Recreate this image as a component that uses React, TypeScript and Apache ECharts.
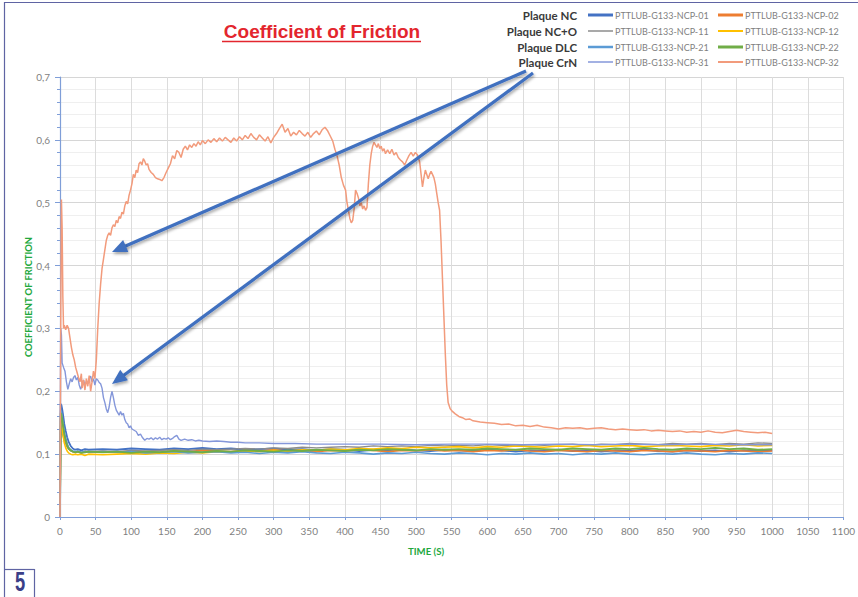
import React, { useEffect, useRef } from "react";
import * as echarts from "echarts";

// ---- axis ticks ----
const X_MIN = 0;
const X_MAX = 1100;
const X_STEP = 50;
const Y_MIN = 0;
const Y_MAX = 0.7;
const Y_STEP = 0.1;

// ---- shared time grid for the tight cluster (s) ----
const T_GRID = [
  0, 1, 2, 3, 4, 5, 6, 8, 10, 12, 15, 18, 21, 25, 30, 35, 40,
  60, 80, 100, 120, 140, 160, 180, 200,
  220, 240, 260, 280, 300, 320, 340, 360,
  380, 400, 420, 440, 460, 480, 500, 520,
  540, 560, 580, 600, 620, 640, 660, 680,
  700, 720, 740, 760, 780, 800, 820, 840,
  860, 880, 900, 920, 940, 960, 980, 1000,
];

const NCP01 = [
  0, 0.18, 0.178, 0.172, 0.165, 0.157, 0.148, 0.137, 0.127, 0.12, 0.113, 0.109, 0.107, 0.108, 0.106, 0.108, 0.107,
  0.108, 0.107, 0.109, 0.108, 0.107, 0.109, 0.108, 0.11,
  0.108, 0.109, 0.107, 0.108, 0.109, 0.107, 0.108, 0.106,
  0.108, 0.107, 0.105, 0.107, 0.106, 0.108, 0.106, 0.105,
  0.107, 0.106, 0.105, 0.107, 0.106, 0.104, 0.106, 0.105,
  0.107, 0.105, 0.106, 0.104, 0.106, 0.105, 0.107, 0.105,
  0.104, 0.106, 0.105, 0.106, 0.104, 0.106, 0.105, 0.106,
];
const NCP02 = [
  0, 0.16, 0.158, 0.152, 0.145, 0.138, 0.13, 0.122, 0.115, 0.11, 0.106, 0.104, 0.103, 0.104, 0.102, 0.104, 0.103,
  0.104, 0.103, 0.105, 0.104, 0.103, 0.105, 0.104, 0.106,
  0.105, 0.104, 0.106, 0.105, 0.107, 0.105, 0.106, 0.104,
  0.106, 0.105, 0.107, 0.106, 0.104, 0.106, 0.105, 0.107,
  0.105, 0.106, 0.104, 0.106, 0.105, 0.107, 0.105, 0.104,
  0.106, 0.105, 0.104, 0.106, 0.105, 0.104, 0.106, 0.105,
  0.104, 0.106, 0.105, 0.104, 0.106, 0.105, 0.104, 0.105,
];
const NCP11 = [
  0, 0.13, 0.135, 0.133, 0.13, 0.126, 0.122, 0.116, 0.111, 0.108, 0.105, 0.104, 0.103, 0.104, 0.103, 0.105, 0.104,
  0.105, 0.104, 0.106, 0.105, 0.106, 0.107, 0.106, 0.108,
  0.107, 0.108, 0.109, 0.108, 0.11, 0.109, 0.111, 0.11,
  0.111, 0.112, 0.111, 0.113, 0.112, 0.113, 0.112, 0.114,
  0.113, 0.114, 0.113, 0.115, 0.114, 0.113, 0.115, 0.114,
  0.115, 0.116, 0.114, 0.116, 0.115, 0.117, 0.116, 0.115,
  0.117, 0.116, 0.117, 0.115, 0.117, 0.116, 0.118, 0.117,
];
const NCP12 = [
  0, 0.15, 0.148, 0.14, 0.132, 0.125, 0.118, 0.11, 0.105, 0.102, 0.1, 0.099, 0.1, 0.099, 0.1, 0.098, 0.1,
  0.099, 0.1, 0.101, 0.1, 0.102, 0.101, 0.103, 0.102,
  0.104, 0.103, 0.105, 0.104, 0.106, 0.105, 0.107, 0.106,
  0.108, 0.107, 0.109, 0.108, 0.11, 0.109, 0.111, 0.11,
  0.111, 0.112, 0.11, 0.112, 0.111, 0.113, 0.112, 0.111,
  0.113, 0.112, 0.114, 0.112, 0.113, 0.114, 0.112, 0.113,
  0.114, 0.113, 0.112, 0.114, 0.113, 0.115, 0.113, 0.114,
];
const NCP21 = [
  0, 0.17, 0.168, 0.16, 0.152, 0.143, 0.135, 0.125, 0.117, 0.111, 0.107, 0.105, 0.104, 0.105, 0.103, 0.104, 0.103,
  0.104, 0.103, 0.104, 0.102, 0.103, 0.104, 0.102, 0.103,
  0.104, 0.102, 0.103, 0.101, 0.103, 0.102, 0.104, 0.102,
  0.101, 0.103, 0.102, 0.1, 0.102, 0.101, 0.103, 0.101,
  0.1, 0.102, 0.101, 0.099, 0.101, 0.1, 0.102, 0.1,
  0.101, 0.099, 0.101, 0.1, 0.102, 0.1, 0.099, 0.101,
  0.1, 0.102, 0.1, 0.099, 0.101, 0.1, 0.102, 0.101,
];
const NCP22 = [
  0, 0.165, 0.163, 0.156, 0.148, 0.14, 0.132, 0.122, 0.114, 0.109, 0.106, 0.104, 0.103, 0.104, 0.102, 0.103, 0.104,
  0.103, 0.104, 0.102, 0.104, 0.103, 0.105, 0.104, 0.103,
  0.105, 0.104, 0.106, 0.105, 0.104, 0.106, 0.105, 0.107,
  0.106, 0.105, 0.107, 0.106, 0.108, 0.107, 0.106, 0.108,
  0.107, 0.108, 0.107, 0.109, 0.108, 0.107, 0.109, 0.108,
  0.107, 0.109, 0.108, 0.107, 0.109, 0.108, 0.11, 0.108,
  0.107, 0.109, 0.108, 0.11, 0.108, 0.109, 0.107, 0.108,
];

// ---- CrN plate runs: [time (s), COF] ----
const NCP31: [number, number][] = [
  [0, 0], [1, 0.3], [2, 0.29], [3, 0.245], [5, 0.238], [7, 0.232], [9, 0.215], [11, 0.203], [13, 0.212],
  [15, 0.22], [17, 0.215], [19, 0.222], [21, 0.225], [23, 0.218], [25, 0.222], [27, 0.21], [29, 0.203],
  [31, 0.21], [33, 0.218], [35, 0.21], [37, 0.215], [39, 0.212], [41, 0.22], [43, 0.224], [45, 0.215],
  [47, 0.22], [49, 0.21], [51, 0.22], [53, 0.218], [55, 0.214], [57, 0.212], [59, 0.205], [61, 0.19],
  [63, 0.182], [65, 0.172], [67, 0.166], [69, 0.175], [71, 0.19], [73, 0.2], [75, 0.19], [77, 0.178],
  [79, 0.17], [81, 0.166], [83, 0.162], [85, 0.168], [87, 0.162], [89, 0.165], [91, 0.155], [93, 0.15],
  [95, 0.148], [97, 0.142], [99, 0.145], [101, 0.14], [104, 0.138], [107, 0.136], [110, 0.13], [113, 0.132],
  [116, 0.126], [119, 0.122], [122, 0.125], [125, 0.124], [128, 0.126], [131, 0.123], [134, 0.126],
  [137, 0.124], [140, 0.127], [143, 0.123], [146, 0.125], [149, 0.124], [152, 0.126], [155, 0.123],
  [158, 0.125], [161, 0.128], [164, 0.13], [167, 0.124], [170, 0.122], [175, 0.124], [180, 0.122],
  [185, 0.123], [190, 0.121], [195, 0.122], [200, 0.121], [210, 0.12], [220, 0.121], [230, 0.12],
  [240, 0.119], [250, 0.119], [260, 0.118], [280, 0.118], [300, 0.117], [330, 0.117], [360, 0.116],
  [400, 0.116], [450, 0.116], [500, 0.115], [550, 0.116], [600, 0.116], [650, 0.115], [700, 0.116],
  [750, 0.115], [800, 0.116], [850, 0.115], [900, 0.116], [950, 0.115], [1000, 0.115],
];

const NCP32: [number, number][] = [
  [0, 0], [1, 0.3], [2, 0.505], [3, 0.46], [4, 0.35], [5, 0.3], [6, 0.305], [8, 0.298], [10, 0.305],
  [12, 0.3], [14, 0.285], [16, 0.27], [18, 0.258], [20, 0.25], [22, 0.238], [24, 0.23], [26, 0.222],
  [28, 0.215], [30, 0.228], [31, 0.205], [33, 0.218], [35, 0.202], [37, 0.22], [39, 0.208], [41, 0.225],
  [43, 0.2], [45, 0.215], [47, 0.232], [49, 0.22], [51, 0.25], [53, 0.3], [55, 0.34], [57, 0.37],
  [59, 0.395], [61, 0.41], [63, 0.425], [65, 0.44], [67, 0.448], [69, 0.452], [71, 0.448], [73, 0.46],
  [75, 0.465], [77, 0.462], [79, 0.472], [81, 0.468], [83, 0.478], [85, 0.475], [87, 0.485], [89, 0.482],
  [91, 0.495], [93, 0.502], [95, 0.498], [97, 0.512], [99, 0.52], [101, 0.53], [103, 0.545], [105, 0.54],
  [107, 0.552], [109, 0.548], [111, 0.562], [113, 0.565], [115, 0.56], [117, 0.57], [119, 0.566],
  [121, 0.56], [123, 0.562], [125, 0.553], [128, 0.548], [131, 0.545], [134, 0.54], [137, 0.538],
  [140, 0.537], [143, 0.535], [146, 0.54], [149, 0.548], [152, 0.555], [155, 0.562], [158, 0.575],
  [161, 0.57], [164, 0.583], [167, 0.58], [170, 0.572], [173, 0.585], [176, 0.59], [179, 0.584],
  [182, 0.592], [185, 0.588], [188, 0.594], [191, 0.59], [194, 0.597], [197, 0.592], [200, 0.599],
  [204, 0.594], [208, 0.6], [212, 0.596], [216, 0.602], [220, 0.597], [224, 0.603], [228, 0.598],
  [232, 0.604], [236, 0.6], [240, 0.596], [244, 0.603], [248, 0.598], [252, 0.605], [256, 0.6],
  [260, 0.607], [264, 0.602], [268, 0.61], [272, 0.604], [276, 0.6], [280, 0.608], [284, 0.603],
  [288, 0.598], [292, 0.605], [296, 0.595], [300, 0.604], [304, 0.61], [308, 0.618], [312, 0.625],
  [316, 0.612], [320, 0.618], [324, 0.606], [328, 0.612], [332, 0.608], [336, 0.615], [340, 0.61],
  [344, 0.606], [348, 0.612], [352, 0.604], [356, 0.61], [360, 0.614], [364, 0.608], [368, 0.616],
  [372, 0.62], [376, 0.614], [380, 0.605], [383, 0.598], [386, 0.585], [389, 0.575], [392, 0.56],
  [395, 0.54], [398, 0.528], [401, 0.52], [403, 0.5], [405, 0.488], [407, 0.475], [409, 0.468],
  [411, 0.472], [413, 0.49], [415, 0.52], [417, 0.515], [419, 0.508], [421, 0.495], [423, 0.5],
  [425, 0.49], [427, 0.495], [429, 0.488], [431, 0.492], [433, 0.53], [435, 0.56], [437, 0.578],
  [439, 0.59], [441, 0.596], [443, 0.592], [445, 0.588], [447, 0.594], [449, 0.586], [451, 0.59],
  [453, 0.582], [455, 0.586], [457, 0.578], [460, 0.584], [463, 0.578], [466, 0.585], [469, 0.576],
  [472, 0.58], [475, 0.572], [478, 0.568], [481, 0.565], [484, 0.56], [487, 0.568], [490, 0.575],
  [493, 0.58], [496, 0.574], [499, 0.58], [502, 0.576], [505, 0.565], [507, 0.545], [509, 0.525],
  [511, 0.54], [513, 0.552], [515, 0.545], [517, 0.538], [519, 0.545], [521, 0.55], [523, 0.545],
  [525, 0.54], [527, 0.53], [529, 0.515], [531, 0.5], [533, 0.488], [535, 0.44], [537, 0.38],
  [539, 0.32], [541, 0.26], [543, 0.21], [545, 0.182], [548, 0.172], [551, 0.168], [555, 0.164],
  [560, 0.16], [565, 0.158], [570, 0.155], [575, 0.156], [580, 0.153], [590, 0.151], [600, 0.15],
  [610, 0.149], [620, 0.147], [630, 0.148], [640, 0.145], [650, 0.146], [660, 0.144], [670, 0.146],
  [680, 0.143], [690, 0.142], [700, 0.14], [710, 0.142], [720, 0.141], [730, 0.142], [740, 0.14],
  [750, 0.141], [760, 0.142], [770, 0.14], [780, 0.139], [790, 0.14], [800, 0.139], [810, 0.138],
  [820, 0.139], [830, 0.137], [840, 0.138], [850, 0.137], [860, 0.136], [870, 0.137], [880, 0.135],
  [890, 0.136], [900, 0.135], [910, 0.137], [920, 0.135], [930, 0.134], [940, 0.136], [950, 0.138],
  [960, 0.136], [970, 0.135], [980, 0.134], [990, 0.135], [1000, 0.133],
];

// ---- legend ----
const GROUPS = ["Plaque NC", "Plaque NC+O", "Plaque DLC", "Plaque CrN"];
const SERIES_NAMES = [
  "PTTLUB-G133-NCP-01", "PTTLUB-G133-NCP-02",
  "PTTLUB-G133-NCP-11", "PTTLUB-G133-NCP-12",
  "PTTLUB-G133-NCP-21", "PTTLUB-G133-NCP-22",
  "PTTLUB-G133-NCP-31", "PTTLUB-G133-NCP-32",
];
const COLORS = [
  "#4472C4", "#ED7D31",
  "#8c8c8c", "#FFC000",
  "#5B9BD5", "#70AD47",
  "#8497DA", "#F29B7C",
];
const WIDTHS = [1.8, 1.6, 1.3, 1.6, 1.6, 1.8, 1.4, 1.5];
const LEGEND_WIDTHS = [3, 3, 1.5, 2, 2.5, 3, 1.5, 2];

const zip = (vals: number[]) =>
  T_GRID.map((t, i) => [t, vals[i]]).filter((p) => p[1] !== undefined);

function arrow(x1: number, y1: number, x2: number, y2: number) {
  const dx = x2 - x1;
  const dy = y2 - y1;
  const L = Math.hypot(dx, dy);
  const ux = dx / L;
  const uy = dy / L;
  const hl = 15;
  const hw = 6.5;
  const bx = x2 - ux * hl;
  const by = y2 - uy * hl;
  const px = -uy;
  const py = ux;
  const shadow = { shadowBlur: 3, shadowColor: "rgba(0,0,0,0.35)", shadowOffsetX: 1, shadowOffsetY: 2 };
  return [
    {
      type: "line",
      z: 100,
      shape: { x1, y1, x2: bx + ux * 2, y2: by + uy * 2 },
      style: { stroke: "#3F6FBF", lineWidth: 3.2, ...shadow },
    },
    {
      type: "polygon",
      z: 100,
      shape: { points: [[x2, y2], [bx + px * hw, by + py * hw], [bx - px * hw, by - py * hw]] },
      style: { fill: "#3F6FBF", ...shadow },
    },
  ];
}

export default function App() {
  const ref = useRef<HTMLDivElement>(null);

  useEffect(() => {
    if (!ref.current) return;
    const chart = echarts.init(ref.current, null, { renderer: "svg" });

    const allData: number[][][] = [
      zip(NCP01), zip(NCP02), zip(NCP11), zip(NCP12), zip(NCP21), zip(NCP22),
      NCP31, NCP32,
    ];

    const series = SERIES_NAMES.map((name, i) => ({
      name,
      type: "line",
      data: allData[i],
      showSymbol: false,
      symbol: "none",
      lineStyle: { color: COLORS[i], width: WIDTHS[i] },
      itemStyle: { color: COLORS[i] },
      z: 2 + i,
      silent: true,
    }));

    const legendGraphics: any[] = [];
    const rowY = [15, 31, 47, 62];
    GROUPS.forEach((g, r) => {
      legendGraphics.push({
        type: "text",
        x: 577,
        y: rowY[r],
        style: {
          text: g,
          fill: "#3a3a3a",
          fontFamily: "Lato",
          fontWeight: "bold",
          fontSize: 11.5,
          align: "right",
          verticalAlign: "middle",
        },
      });
      for (let c = 0; c < 2; c++) {
        const idx = r * 2 + c;
        const lx = c === 0 ? 588 : 718;
        legendGraphics.push({
          type: "line",
          shape: { x1: lx, y1: rowY[r], x2: lx + 25, y2: rowY[r] },
          style: { stroke: COLORS[idx], lineWidth: LEGEND_WIDTHS[idx] },
        });
        legendGraphics.push({
          type: "text",
          x: lx + 27,
          y: rowY[r],
          style: {
            text: SERIES_NAMES[idx],
            fill: "#7f7f7f",
            fontFamily: "Lato",
            fontSize: 9,
            align: "left",
            verticalAlign: "middle",
          },
        });
      }
    });

    const frameColor = "#5f64a3";

    chart.setOption({
      animation: false,
      backgroundColor: "#ffffff",
      grid: { left: 60, right: 11, top: 77, bottom: 80, containLabel: false },
      xAxis: {
        type: "value",
        min: X_MIN,
        max: X_MAX,
        interval: X_STEP,
        axisLine: { show: true, onZero: false, lineStyle: { color: "#7F9ED8", width: 1.2 } },
        axisTick: { show: true, inside: false, length: 3, lineStyle: { color: "#7F9ED8" } },
        axisLabel: {
          color: "#7f7f7f",
          fontFamily: "Lato",
          fontSize: 10,
          margin: 9,
          formatter: (v: number) => String(Math.round(v)),
        },
        splitLine: { show: true, lineStyle: { color: "#dcdcdc", width: 1 } },
      },
      yAxis: {
        type: "value",
        min: Y_MIN,
        max: Y_MAX,
        interval: Y_STEP,
        axisLine: { show: true, onZero: false, lineStyle: { color: "#7F9ED8", width: 1.2 } },
        axisTick: { show: true, length: 5, lineStyle: { color: "#7F9ED8" } },
        minorTick: { show: true, splitNumber: 5, length: 3, lineStyle: { color: "#7F9ED8" } },
        axisLabel: {
          color: "#7f7f7f",
          fontFamily: "Lato",
          fontSize: 10,
          margin: 10,
          formatter: (v: number) => (Math.round(v * 10) / 10).toString().replace(".", ","),
        },
        splitLine: { show: true, lineStyle: { color: "#d6d6d6", width: 1 } },
        minorSplitLine: { show: true, lineStyle: { color: "#efefef", width: 1 } },
      },
      series,
      graphic: [
        // frame
        { type: "line", shape: { x1: 4.5, y1: 2, x2: 4.5, y2: 597 }, style: { stroke: frameColor, lineWidth: 1.2 } },
        { type: "line", shape: { x1: 4, y1: 2.5, x2: 858, y2: 2.5 }, style: { stroke: frameColor, lineWidth: 1.2 } },
        { type: "line", shape: { x1: 4, y1: 569.5, x2: 34.5, y2: 569.5 }, style: { stroke: frameColor, lineWidth: 1.2 } },
        { type: "line", shape: { x1: 34.5, y1: 569, x2: 34.5, y2: 597 }, style: { stroke: frameColor, lineWidth: 1.2 } },
        {
          type: "text",
          x: 20,
          y: 582,
          scaleX: 0.68,
          style: {
            text: "5",
            fill: "#3b3f88",
            fontFamily: "Liberation Sans",
            fontWeight: "bold",
            fontSize: 27,
            align: "center",
            verticalAlign: "middle",
          },
        },
        // title
        {
          type: "text",
          x: 322,
          y: 31,
          style: {
            text: "Coefficient of Friction",
            fill: "#E3262E",
            fontFamily: "Liberation Sans",
            fontWeight: "bold",
            fontSize: 19,
            align: "center",
            verticalAlign: "middle",
          },
        },
        { type: "line", shape: { x1: 222, y1: 41.5, x2: 421, y2: 41.5 }, style: { stroke: "#E3262E", lineWidth: 1.5 } },
        // axis titles
        {
          type: "text",
          x: 28,
          y: 297,
          rotation: Math.PI / 2,
          style: {
            text: "COEFFICIENT OF FRICTION",
            fill: "#22A83D",
            fontFamily: "Lato",
            fontWeight: "bold",
            fontSize: 9.4,
            align: "center",
            verticalAlign: "middle",
          },
        },
        {
          type: "text",
          x: 426,
          y: 551,
          style: {
            text: "TIME (S)",
            fill: "#22A83D",
            fontFamily: "Lato",
            fontWeight: "bold",
            fontSize: 9.6,
            align: "center",
            verticalAlign: "middle",
          },
        },
        ...legendGraphics,
        ...arrow(526, 71, 112, 252),
        ...arrow(533, 73, 112, 384),
      ],
    });

    return () => chart.dispose();
  }, []);

  return (
    <div
      ref={ref}
      style={{ position: "fixed", left: 0, top: 0, width: 858, height: 597, background: "#fff" }}
    />
  );
}
